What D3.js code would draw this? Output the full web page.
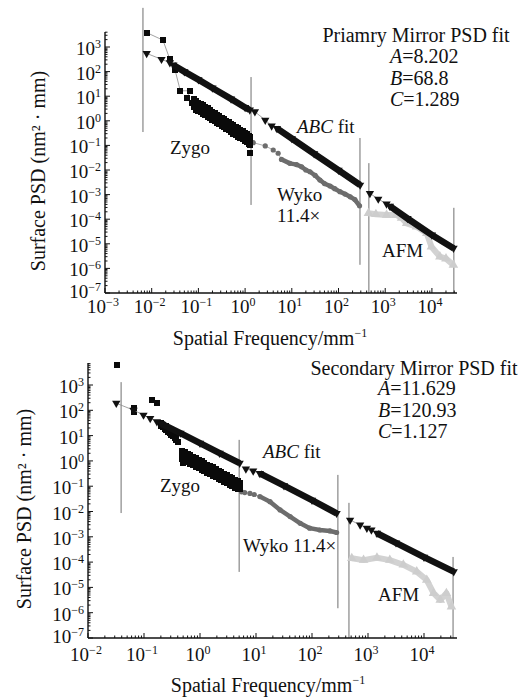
<!DOCTYPE html>
<html>
<head>
<meta charset="utf-8">
<script src="https://cdn.jsdelivr.net/npm/d3@7"></script>
<style>
  body { margin: 0; background: #fff; }
  text { font-family: "Liberation Serif", "Times New Roman", serif; fill: #111; }
</style>
</head>
<body>
<svg id="chart" width="521" height="699"></svg>
<script>
// ---- data: [spatial frequency (1/mm), PSD (nm^2 mm)] ----

// primary mirror
const topZygo = [
  [0.0079, 3800], [0.0174, 1900], [0.0245, 316], [0.0316, 117], [0.041, 16.6], [0.066, 16.6],
  [0.056, 8.1], [0.072, 5.5], [0.091, 2.75], [0.107, 4.0],
  [0.079, 7.4], [0.079, 5.2], [0.079, 3.5], [0.089, 6.3], [0.089, 4.5], [0.089, 3.0],
  [0.1, 5.5], [0.1, 3.8], [0.1, 2.6], [0.112, 4.8], [0.112, 3.2], [0.112, 2.3],
  [0.126, 4.2], [0.126, 2.9], [0.126, 1.9], [0.141, 3.6], [0.141, 2.5], [0.141, 1.66],
  [0.158, 3.2], [0.158, 2.1], [0.158, 1.48], [0.178, 2.75], [0.178, 1.82], [0.178, 1.26],
  [0.2, 2.34], [0.2, 1.62], [0.2, 1.1], [0.224, 2.04], [0.224, 1.41], [0.224, 0.95],
  [0.251, 1.78], [0.251, 1.2], [0.251, 0.83], [0.282, 1.55], [0.282, 1.05], [0.282, 0.72],
  [0.316, 1.35], [0.316, 0.89], [0.316, 0.63], [0.355, 1.17], [0.355, 0.79], [0.355, 0.54],
  [0.398, 1.0], [0.398, 0.68], [0.398, 0.47], [0.447, 0.87], [0.447, 0.6], [0.447, 0.41],
  [0.5, 0.76], [0.5, 0.51], [0.5, 0.355], [0.562, 0.66], [0.562, 0.45], [0.562, 0.3],
  [0.631, 0.575], [0.631, 0.39], [0.631, 0.27], [0.708, 0.5], [0.708, 0.34], [0.708, 0.23],
  [0.794, 0.44], [0.794, 0.295], [0.794, 0.2], [0.891, 0.38], [0.891, 0.25], [0.891, 0.174],
  [1.0, 0.316], [1.0, 0.22], [1.0, 0.15], [1.12, 0.28], [1.12, 0.19], [1.12, 0.132],
  [1.2, 0.24], [1.2, 0.166], [1.2, 0.112], [1.26, 0.21], [1.26, 0.141], [1.26, 0.105],
  [1.26, 0.049]
];
const topWyko = [
  [1.5, 0.129], [2.7, 0.095], [4.0, 0.065], [5.1, 0.048],
  [6.0, 0.027], [9.1, 0.0186], [12.6, 0.0166], [16.2, 0.0135], [20, 0.01], [24.5, 0.0085],
  [31.6, 0.006], [40, 0.0039], [50, 0.0028], [66, 0.00224], [83, 0.00174], [107, 0.00132],
  [138, 0.00105], [178, 0.00081], [224, 0.00063], [282, 0.00035]
];
const topAfm = [
  [437, 1.74e-4], [631, 1.58e-4], [1070, 1.48e-4], [1740, 1.48e-4], [2240, 1.12e-4],
  [2880, 6.8e-5], [4680, 5.0e-5], [7760, 2.7e-5], [9770, 7.6e-6], [14800, 3.0e-6],
  [20000, 2.5e-6], [28800, 1.38e-6]
];
const topFitZygo = [
  [0.0078, 550], [0.0162, 316], [0.0245, 229],
  [0.029, 186], [0.05, 100], [0.1, 47], [0.2, 21.5], [0.5, 7.8], [1.0, 3.5], [1.26, 2.75]
];
const topFitWyko = [
  [1.62, 2.34], [2.7, 1.07], [3.7, 0.62],
  [4.8, 0.49], [10, 0.19], [30, 0.046], [100, 0.0098], [290, 0.00245]
];
const topFitAfm = [
  [470, 0.00112], [710, 6.6e-4], [1070, 4.2e-4],
  [1260, 3.4e-4], [3000, 1.07e-4], [10000, 2.3e-5], [29000, 6.6e-6]
];
// instrument band markers: [frequency, psd from, psd to]
const topBands = [
  [0.0065, 3.9e4, 0.35], [1.34, 60, 3.8e-4], [288, 0.2, 1.4e-6], [447, 0.019, 1e-7], [29500, 2.9e-4, 1e-7]
];
const topParams = ["8.202", "68.8", "1.289"];

// secondary mirror
const botZygo = [
  [0.033, 6200], [0.065, 120], [0.065, 89], [0.138, 257], [0.17, 200],
  [0.204, 31.6], [0.204, 25], [0.219, 26], [0.219, 21], [0.234, 25], [0.234, 19],
  [0.251, 23], [0.251, 16.6], [0.269, 20], [0.269, 14.5], [0.288, 18.2], [0.288, 12.6],
  [0.309, 15.8], [0.309, 11], [0.331, 13.2], [0.331, 9.5], [0.355, 11.2], [0.355, 7.9],
  [0.38, 9.1], [0.38, 6.9], [0.407, 5.8],
  [0.5, 0.79],
  [0.479, 2.5], [0.479, 1.74], [0.479, 1.2], [0.537, 2.2], [0.537, 1.51], [0.537, 1.05],
  [0.603, 1.9], [0.603, 1.32], [0.603, 0.89], [0.676, 1.66], [0.676, 1.15], [0.676, 0.78],
  [0.759, 1.45], [0.759, 1.0], [0.759, 0.69], [0.851, 1.26], [0.851, 0.87], [0.851, 0.59],
  [0.955, 1.1], [0.955, 0.76], [0.955, 0.51], [1.07, 0.95], [1.07, 0.66], [1.07, 0.45],
  [1.2, 0.83], [1.2, 0.575], [1.2, 0.39], [1.35, 0.72], [1.35, 0.5], [1.35, 0.34],
  [1.51, 0.63], [1.51, 0.44], [1.51, 0.295], [1.7, 0.55], [1.7, 0.38], [1.7, 0.257],
  [1.91, 0.48], [1.91, 0.33], [1.91, 0.224], [2.14, 0.417], [2.14, 0.29], [2.14, 0.195],
  [2.4, 0.363], [2.4, 0.25], [2.4, 0.17], [2.69, 0.316], [2.69, 0.22], [2.69, 0.148],
  [3.02, 0.275], [3.02, 0.19], [3.02, 0.129], [3.39, 0.24], [3.39, 0.166], [3.39, 0.112],
  [3.8, 0.21], [3.8, 0.145], [3.8, 0.098], [4.27, 0.182], [4.27, 0.126], [4.27, 0.085],
  [4.79, 0.158], [4.79, 0.11], [4.79, 0.076], [5.13, 0.132], [5.13, 0.079]
];
const botWyko = [
  [5.5, 0.06], [6.3, 0.056], [7.8, 0.052], [9.3, 0.047],
  [11.7, 0.039], [17.8, 0.0245], [26.9, 0.0115], [40.7, 0.0063], [61.7, 0.0034],
  [91, 0.0022], [138, 0.00186], [209, 0.0017], [275, 0.00148]
];
const botAfm = [
  [513, 1.41e-4], [832, 1.2e-4], [1445, 1.48e-4], [2450, 1.2e-4], [4270, 7.8e-5],
  [7410, 4.2e-5], [11200, 1.95e-5], [14800, 5.9e-6], [19500, 3.2e-6], [25100, 5.9e-6],
  [30900, 1.74e-6]
];
const botFitZygo = [
  [0.032, 190], [0.065, 102], [0.098, 65], [0.129, 48], [0.17, 35.5],
  [0.204, 30], [0.447, 12.6], [1.0, 5.0], [2.24, 2.04], [5.1, 0.81]
];
const botFitWyko = [
  [6.6, 0.48], [8.9, 0.4],
  [11.7, 0.32], [31.6, 0.105], [100, 0.028], [275, 0.0085]
];
const botFitAfm = [
  [479, 0.0046], [724, 0.00295], [955, 0.0022], [1150, 0.00186],
  [1445, 0.00138], [3160, 5.8e-4], [10000, 1.58e-4], [33900, 4.2e-5]
];
const botBands = [
  [0.039, 1300, 0.0087], [5.0, 6.8, 4.1e-5], [290, 0.28, 1.5e-6], [457, 0.022, 1e-7], [33000, 1.6e-4, 1e-7]
];
const botParams = ["11.629", "120.93", "1.127"];

// where the densely sampled part of each fit band starts (index)
const fitDense = [3, 3, 3];
const botFitDense = [5, 2, 4];

const svg = d3.select("#chart");
const sup = e => (e < 0 ? "\u2212" + (-e) : String(e));

function drawPanel(cfg) {
  const g = svg.append("g");
  const x = d3.scaleLog().domain(cfg.xDomain).range([cfg.left, cfg.right]);
  const y = d3.scaleLog().domain(cfg.yDomain).range([cfg.bottom, cfg.top]);
  const line = d3.line().x(d => x(d[0])).y(d => y(d[1]));

  // separators between the instrument bands
  g.selectAll("line.band")
    .data(cfg.bands)
    .join("line")
    .attr("class", "band")
    .attr("x1", d => x(d[0])).attr("x2", d => x(d[0]))
    .attr("y1", d => y(d[1])).attr("y2", d => y(d[2]))
    .attr("stroke", "#6f6f6f")
    .attr("stroke-width", 1);

  // AFM (light grey up triangles)
  g.append("path")
    .attr("d", line(cfg.afm))
    .attr("fill", "none").attr("stroke", "#d2d2d2")
    .attr("stroke-width", 6).attr("stroke-linejoin", "round");
  g.selectAll("path.afm")
    .data(cfg.afm)
    .join("path")
    .attr("class", "afm")
    .attr("transform", d => `translate(${x(d[0])},${y(d[1])})`)
    .attr("d", d3.symbol(d3.symbolTriangle, 40))
    .attr("fill", "#cdcdcd");

  // Wyko (grey dots)
  g.append("path")
    .attr("d", line(cfg.wyko))
    .attr("fill", "none").attr("stroke", "#9a9a9a").attr("stroke-width", 0.8);
  g.append("path")
    .attr("d", line(cfg.wyko.slice(4)))
    .attr("fill", "none").attr("stroke", "#6d6d6d")
    .attr("stroke-width", 4.5).attr("stroke-linejoin", "round");
  g.selectAll("circle.wyko")
    .data(cfg.wyko)
    .join("circle")
    .attr("class", "wyko")
    .attr("cx", d => x(d[0])).attr("cy", d => y(d[1]))
    .attr("r", 2.6)
    .attr("fill", "#6d6d6d");

  // Zygo (black squares)
  if (cfg.zygoLink > 0) {
    g.append("path")
      .attr("d", line(cfg.zygo.slice(0, cfg.zygoLink)))
      .attr("fill", "none").attr("stroke", "#8a8a8a").attr("stroke-width", 0.8);
  }
  g.selectAll("rect.zygo")
    .data(cfg.zygo)
    .join("rect")
    .attr("class", "zygo")
    .attr("x", d => Math.round(x(d[0]) - 3)).attr("y", d => Math.round(y(d[1]) - 3))
    .attr("width", 6).attr("height", 6)
    .attr("shape-rendering", "crispEdges")
    .attr("fill", "#0a0a0a");

  // ABC fit (black down triangles)
  cfg.fit.forEach((band, i) => {
    g.append("path")
      .attr("d", line(band))
      .attr("fill", "none").attr("stroke", "#8a8a8a").attr("stroke-width", 0.8);
    g.append("path")
      .attr("d", line(band.slice(cfg.fitDense[i])))
      .attr("fill", "none").attr("stroke", "#111")
      .attr("stroke-width", 6.5);
    g.selectAll(null)
      .data(band)
      .join("path")
      .attr("transform", d => `translate(${x(d[0])},${y(d[1])}) rotate(180)`)
      .attr("d", d3.symbol(d3.symbolTriangle, 30))
      .attr("fill", "#111");
  });

  // axes
  const xDec = d3.range(Math.ceil(Math.log10(cfg.xDomain[0])), Math.floor(Math.log10(cfg.xDomain[1])) + 1);
  const yDec = d3.range(-7, 4);
  const minor = (dom) => {
    const out = [];
    for (let e = Math.floor(Math.log10(dom[0])); e <= Math.ceil(Math.log10(dom[1])); e++)
      for (let k = 2; k <= 9; k++) {
        const v = k * Math.pow(10, e);
        if (v > dom[0] && v < dom[1]) out.push(v);
      }
    return out;
  };

  g.append("line")
    .attr("x1", cfg.left).attr("x2", cfg.right)
    .attr("y1", cfg.bottom).attr("y2", cfg.bottom)
    .attr("stroke", "#111").attr("stroke-width", 1.4);
  g.append("line")
    .attr("x1", cfg.left).attr("x2", cfg.left)
    .attr("y1", cfg.bottom).attr("y2", cfg.top)
    .attr("stroke", "#111").attr("stroke-width", 1.4);

  g.selectAll(null)
    .data(xDec.map(e => [Math.pow(10, e), 5]).concat(minor(cfg.xDomain).map(v => [v, 2.5])))
    .join("line")
    .attr("x1", d => x(d[0])).attr("x2", d => x(d[0]))
    .attr("y1", cfg.bottom).attr("y2", d => cfg.bottom - d[1])
    .attr("stroke", "#111").attr("stroke-width", 1);
  g.selectAll(null)
    .data(yDec.map(e => [Math.pow(10, e), 5]).concat(minor(cfg.yDomain).map(v => [v, 2.5])))
    .join("line")
    .attr("y1", d => y(d[0])).attr("y2", d => y(d[0]))
    .attr("x1", cfg.left).attr("x2", d => cfg.left + d[1])
    .attr("stroke", "#111").attr("stroke-width", 1);

  const powLabel = (sel) => sel.each(function (e) {
    const t = d3.select(this);
    t.append("tspan").text("10");
    t.append("tspan").attr("dy", -7).attr("font-size", 12).text(sup(e));
  });

  g.selectAll(null)
    .data(xDec)
    .join("text")
    .attr("x", e => x(Math.pow(10, e)) - 2)
    .attr("y", cfg.bottom + cfg.xLabelGap)
    .attr("text-anchor", "middle")
    .attr("font-size", 19)
    .call(powLabel);
  g.selectAll(null)
    .data(yDec)
    .join("text")
    .attr("x", cfg.left - 4)
    .attr("y", e => y(Math.pow(10, e)) + (e === -7 ? 5 : 8))
    .attr("text-anchor", "end")
    .attr("font-size", 19)
    .call(powLabel);

  // axis titles
  const xt = g.append("text")
    .attr("x", cfg.xTitle[0]).attr("y", cfg.xTitle[1])
    .attr("text-anchor", "middle").attr("font-size", 20);
  xt.append("tspan").text("Spatial Frequency/mm");
  xt.append("tspan").attr("dy", -8).attr("font-size", 12).text("\u22121");
  g.append("text")
    .attr("transform", `translate(${cfg.yTitle[0]},${cfg.yTitle[1]}) rotate(-90)`)
    .attr("text-anchor", "middle").attr("font-size", 20)
    .text("Surface PSD (nm\u00b2 \u00b7 mm)");

  // annotations
  cfg.notes.forEach(n => {
    const t = g.append("text")
      .attr("x", n.x).attr("y", n.y)
      .attr("font-size", n.size || 19)
      .attr("text-anchor", n.anchor || "start");
    n.parts.forEach(p => t.append("tspan").attr("font-style", p[1] ? "italic" : null).text(p[0]));
  });
  const labels = ["A", "B", "C"];
  cfg.params.forEach((v, i) => {
    const t = g.append("text")
      .attr("x", cfg.paramX).attr("y", cfg.paramY[i])
      .attr("font-size", 20);
    t.append("tspan").attr("font-style", "italic").text(labels[i]);
    t.append("tspan").text("=" + v);
  });
}

drawPanel({
  left: 105, right: 457, bottom: 293, top: 32,
  xDomain: [1e-3, Math.pow(10, 4.537)], yDomain: [1e-7, Math.pow(10, 3.61)],
  zygo: topZygo, zygoLink: 7, wyko: topWyko, afm: topAfm,
  fit: [topFitZygo, topFitWyko, topFitAfm], fitDense: fitDense,
  bands: topBands, params: topParams,
  paramX: 390, paramY: [63, 85, 106],
  xLabelGap: 20, xTitle: [270, 345], yTitle: [45, 171],
  notes: [
    { x: 416, y: 42, size: 20, anchor: "middle", parts: [["Priamry Mirror PSD fit"]] },
    { x: 297, y: 133, parts: [["ABC", true], [" fit"]] },
    { x: 170, y: 154, parts: [["Zygo"]] },
    { x: 277, y: 201, parts: [["Wyko"]] },
    { x: 277, y: 222, parts: [["11.4\u00d7"]] },
    { x: 382, y: 257, parts: [["AFM"]] }
  ]
});

drawPanel({
  left: 88, right: 457, bottom: 638, top: 363,
  xDomain: [1e-2, Math.pow(10, 4.589)], yDomain: [1e-7, Math.pow(10, 3.87)],
  zygo: botZygo, zygoLink: 0, wyko: botWyko, afm: botAfm,
  fit: [botFitZygo, botFitWyko, botFitAfm], fitDense: botFitDense,
  bands: botBands, params: botParams,
  paramX: 378, paramY: [395, 417, 438],
  xLabelGap: 23, xTitle: [268, 692], yTitle: [31, 509],
  notes: [
    { x: 414, y: 375, size: 20, anchor: "middle", parts: [["Secondary Mirror PSD fit"]] },
    { x: 263, y: 458, parts: [["ABC", true], [" fit"]] },
    { x: 160, y: 492, parts: [["Zygo"]] },
    { x: 243, y: 552, parts: [["Wyko 11.4\u00d7"]] },
    { x: 378, y: 601, parts: [["AFM"]] }
  ]
});
</script>
</body>
</html>
